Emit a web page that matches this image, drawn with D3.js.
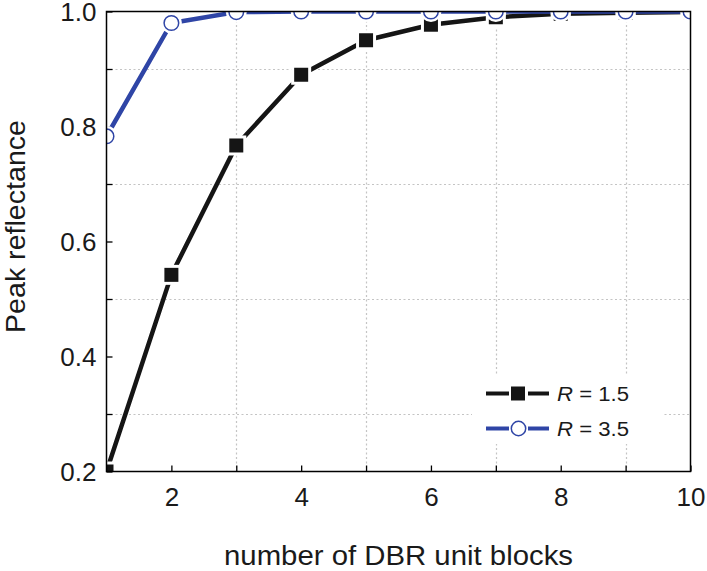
<!DOCTYPE html>
<html>
<head>
<meta charset="utf-8">
<script src="https://cdn.jsdelivr.net/npm/d3@7"></script>
<style>
  html, body { margin: 0; padding: 0; background: #fff; }
  svg { display: block; font-family: "Liberation Sans", Arial, sans-serif; }
</style>
</head>
<body>
<svg id="chart" width="707" height="571"></svg>
<script>
// Peak reflectance vs. number of DBR unit blocks
const blocks = [1, 2, 3, 4, 5, 6, 7, 8, 9, 10];
const reflR15 = [0.200, 0.542, 0.767, 0.890, 0.950, 0.977, 0.990, 0.996, 0.998, 0.999];
const reflR35 = [0.783, 0.980, 0.999, 1.000, 1.000, 1.000, 1.000, 1.000, 1.000, 1.000];
const seriesNames = ["1.5", "3.5"];
const xTickLabels = [2, 4, 6, 8, 10];
const yTickLabels = [0.2, 0.4, 0.6, 0.8, 1.0];
const xGrid = [3, 5, 7, 9];
const yGrid = [0.3, 0.5, 0.7, 0.9];

const svg = d3.select("#chart");
const pL = 106.5, pR = 690.5, pT = 11.5, pB = 471.5;

const x = d3.scaleLinear().domain([1, 10]).range([pL, pR]);
const y = d3.scaleLinear().domain([0.2, 1.0]).range([pB, pT]);

const textColor = "#1a1a1a";
const blue = "#2f45a6";
const black = "#151515";

// clip region for the plotted data
svg.append("defs").append("clipPath").attr("id", "plotClip")
  .append("rect").attr("x", pL).attr("y", pT)
  .attr("width", pR - pL).attr("height", pB - pT);

// dotted grid
const grid = svg.append("g").attr("stroke", "#c4c4c4").attr("stroke-width", 1.2)
  .attr("stroke-dasharray", "2,2.5");
grid.selectAll("line.gx").data(xGrid).join("line").attr("class", "gx")
  .attr("x1", d => Math.round(x(d)) + 0.5).attr("x2", d => Math.round(x(d)) + 0.5)
  .attr("y1", pT).attr("y2", pB);
grid.selectAll("line.gy").data(yGrid).join("line").attr("class", "gy")
  .attr("y1", d => Math.round(y(d)) + 0.5).attr("y2", d => Math.round(y(d)) + 0.5)
  .attr("x1", pL).attr("x2", pR);

// axes with inward ticks
const xAxis = d3.axisBottom(x).tickValues(blocks).tickSize(-6).tickSizeOuter(0)
  .tickFormat(d => xTickLabels.includes(d) ? d3.format("d")(d) : "");
const yAxis = d3.axisLeft(y).tickValues(d3.range(2, 11).map(v => v / 10)).tickSize(-6).tickSizeOuter(0)
  .tickFormat(d => yTickLabels.some(v => Math.abs(v - d) < 1e-9) ? d3.format(".1f")(d) : "");

const gx = svg.append("g").attr("transform", `translate(0,${pB})`).call(xAxis);
gx.select(".domain").remove();
gx.selectAll(".tick line").attr("stroke", "#000").attr("stroke-width", 1.3);
gx.selectAll(".tick text").attr("fill", textColor).attr("font-size", 26)
  .attr("font-family", "Liberation Sans, Arial, sans-serif").attr("y", 16).attr("dy", "0.71em");

const gy = svg.append("g").attr("transform", `translate(${pL},0)`).call(yAxis);
gy.select(".domain").remove();
gy.selectAll(".tick line").attr("stroke", "#000").attr("stroke-width", 1.3);
gy.selectAll(".tick text").attr("fill", textColor).attr("font-size", 26)
  .attr("font-family", "Liberation Sans, Arial, sans-serif").attr("x", -10).attr("dy", "0.36em");

// data layer
const plot = svg.append("g").attr("clip-path", "url(#plotClip)");
const line = d3.line().x(d => x(d[0])).y(d => y(d[1]));

function drawSeries(vals, color, shape) {
  const pts = blocks.map((b, i) => [b, vals[i]]);
  plot.append("path").datum(pts).attr("d", line)
    .attr("fill", "none").attr("stroke", color).attr("stroke-width", 4.5)
    .attr("stroke-linejoin", "round");
  const g = plot.append("g");
  if (shape === "square") {
    const s = 14;
    g.selectAll("rect.halo").data(pts).join("rect").attr("class", "halo")
      .attr("x", d => x(d[0]) - s / 2).attr("y", d => y(d[1]) - s / 2)
      .attr("width", s).attr("height", s)
      .attr("fill", "#fff").attr("stroke", "#fff").attr("stroke-width", 6);
    g.selectAll("rect.mk").data(pts).join("rect").attr("class", "mk")
      .attr("x", d => x(d[0]) - s / 2).attr("y", d => y(d[1]) - s / 2)
      .attr("width", s).attr("height", s).attr("fill", color);
  } else {
    g.selectAll("circle.halo").data(pts).join("circle").attr("class", "halo")
      .attr("cx", d => x(d[0])).attr("cy", d => y(d[1])).attr("r", 10.5).attr("fill", "#fff");
    g.selectAll("circle.mk").data(pts).join("circle").attr("class", "mk")
      .attr("cx", d => x(d[0])).attr("cy", d => y(d[1])).attr("r", 7.3)
      .attr("fill", "#fff").attr("stroke", color).attr("stroke-width", 1.5);
  }
}
drawSeries(reflR15, black, "square");
drawSeries(reflR35, blue, "circle");

// frame
svg.append("rect").attr("x", pL).attr("y", pT)
  .attr("width", pR - pL).attr("height", pB - pT)
  .attr("fill", "none").attr("stroke", "#000").attr("stroke-width", 1.5);

// legend
const legend = svg.append("g");
legend.append("rect").attr("x", 472).attr("y", 376).attr("width", 192).attr("height", 68).attr("fill", "#fff");
const legendRows = [
  { name: seriesNames[0], color: black, shape: "square", cy: 393.5 },
  { name: seriesNames[1], color: blue, shape: "circle", cy: 428.5 }
];
legendRows.forEach(r => {
  const g = legend.append("g");
  g.append("line").attr("x1", 486).attr("x2", 509).attr("y1", r.cy).attr("y2", r.cy)
    .attr("stroke", r.color).attr("stroke-width", 4);
  g.append("line").attr("x1", 528).attr("x2", 549).attr("y1", r.cy).attr("y2", r.cy)
    .attr("stroke", r.color).attr("stroke-width", 4);
  if (r.shape === "square") {
    g.append("rect").attr("x", 511).attr("y", r.cy - 7).attr("width", 14).attr("height", 14).attr("fill", r.color);
  } else {
    g.append("circle").attr("cx", 518.5).attr("cy", r.cy).attr("r", 7.2)
      .attr("fill", "#fff").attr("stroke", r.color).attr("stroke-width", 1.5);
  }
  const t = g.append("text").attr("x", 557).attr("y", r.cy + 7.5)
    .attr("font-size", 20).attr("fill", textColor)
    .attr("textLength", 72).attr("lengthAdjust", "spacingAndGlyphs");
  t.append("tspan").attr("font-style", "italic").text("R");
  t.append("tspan").text(" = " + r.name);
});

// axis titles
svg.append("text").attr("x", (pL + pR) / 2).attr("y", 565)
  .attr("text-anchor", "middle").attr("font-size", 27).attr("fill", textColor)
  .attr("textLength", 349).attr("lengthAdjust", "spacingAndGlyphs")
  .text("number of DBR unit blocks");
svg.append("text").attr("transform", "translate(25,226.5) rotate(-90)")
  .attr("text-anchor", "middle").attr("font-size", 27).attr("fill", textColor)
  .attr("textLength", 213).attr("lengthAdjust", "spacingAndGlyphs")
  .text("Peak reflectance");
</script>
</body>
</html>
